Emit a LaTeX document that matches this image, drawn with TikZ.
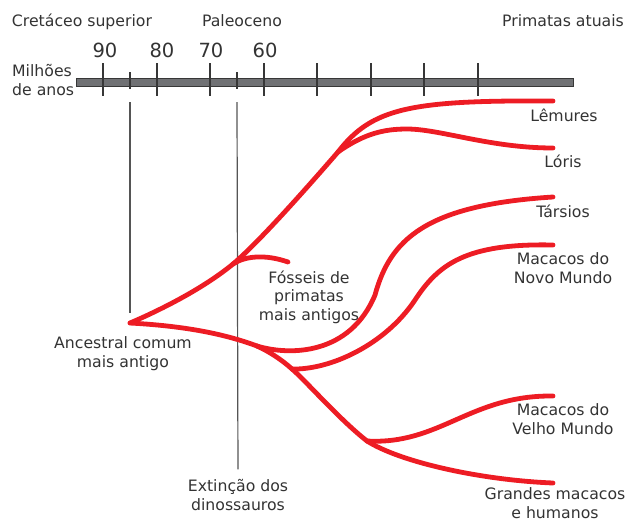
\documentclass[tikz,border=0pt]{standalone}
\usepackage{fontspec}
\setmainfont{DejaVu Sans}
\definecolor{primred} {RGB}{237,28,36}
\definecolor{primgray}{RGB}{112,113,116}
\definecolor{primdark}{RGB}{55,55,55}
\definecolor{primtext}{RGB}{51,51,51}
\tikzset{
  ramo/.style={primred,line width=4.8pt,line cap=round},
  marca/.style={primdark,line width=1.2pt},
  guia/.style={primdark!85,line width=1.2pt},
  rotulo/.style={text=primtext,font=\fontsize{15.7}{18.3}\selectfont,
                 align=center,inner sep=0pt},
  escala/.style={text=primtext,font=\fontsize{19.5}{22}\selectfont,inner sep=0pt},
}

\begin{document}
\begin{tikzpicture}[x=1pt,y=-1pt]
    \useasboundingbox (0,0) rectangle (628,523);
    % time scale
    \node[rotulo,anchor=base] (cret)   at (82,26)  {Cretáceo superior};
    \node[rotulo,anchor=base] (paleo)  at (242,26) {Paleoceno};
    \node[rotulo,anchor=base] (atuais) at (563,26) {Primatas atuais};
    \foreach \x/\v in {105/90,162/80,211/70,265/60}
      \node[escala,anchor=base] (m\v) at (\x,57) {\v};
    \node[rotulo,align=left,anchor=base west] (anos) at (12,95) {Milhões\\de anos};
    \filldraw[fill=primgray,draw=primdark,line width=1pt] (76,78) rectangle (573,86);
    \foreach \x in {103,157,210,264,317,371,424,478}
      \draw[marca] (\x,63) -- (\x,96);
    \foreach \x in {130,237}
      \draw[marca] (\x,72) -- (\x,89);
    % branch points and tips
    \coordinate (anc) at (130,323);
    \coordinate (b1)  at (338,152);
    \coordinate (b2)  at (233,264);
    \coordinate (b3)  at (257,346);
    \coordinate (b4)  at (292,369);
    \coordinate (b5)  at (367,441);
    \coordinate (lem) at (553,101);
    \coordinate (lor) at (553,148);
    \coordinate (fos) at (288,262);
    \coordinate (tar) at (553,197);
    \coordinate (nov) at (553,245);
    \coordinate (vel) at (553,396);
    \coordinate (gra) at (553,483);
    % labels (base = last line)
    \node[rotulo,anchor=base] (llem) at (564,121) {Lêmures};
    \node[rotulo,anchor=base] (llor) at (563,167) {Lóris};
    \node[rotulo,anchor=base] (ltar) at (563,217) {Társios};
    \node[rotulo,anchor=base] (lnov) at (563,283) {Macacos do\\Novo Mundo};
    \node[rotulo,anchor=base] (lvel) at (563,434) {Macacos do\\Velho Mundo};
    \node[rotulo,anchor=base] (lgra) at (555,518) {Grandes macacos\\e humanos};
    \node[rotulo,anchor=base] (lfos) at (309,320) {Fósseis de\\primatas\\mais antigos};
    \node[rotulo,anchor=base] (lanc) at (123,367) {Ancestral comum\\mais antigo};
    \node[rotulo,anchor=base] (lext) at (238,510) {Extinção dos\\dinossauros};
    % guide lines
    \coordinate (g1) at (130,102);
    \coordinate (g2) at (237,102);
    \draw[guia,shorten >=10pt] (g1) -- (anc);
    \draw[guia,shorten >=10pt] (g2) -- (lext.north);
    % tree
    \draw[ramo] (anc) .. controls (165,308) and (205,287) .. (b2);
    \draw[ramo] (b2) .. controls (258,243) and (305,190) .. (b1);
    \draw[ramo] (b1) .. controls (372,108) and (410,100) .. (lem);
    \draw[ramo] (b1) .. controls (365,133) and (385,129) .. (407,129)
                     .. controls (440,129) and (490,148) .. (lor);
    \draw[ramo] (b2) .. controls (245,256) and (265,254) .. (fos);
    \draw[ramo] (anc) .. controls (185,326) and (225,334) .. (b3);
    \draw[ramo] (b3) .. controls (270,352) and (282,360) .. (b4);
    \draw[ramo] (b4) .. controls (305,380) and (340,420) .. (b5);
    \draw[ramo] (b5) .. controls (400,462) and (480,480) .. (gra);
    \draw[ramo] (b3) .. controls (290,356) and (350,355) .. (375,295)
                     .. controls (390,240) and (425,205) .. (tar);
    \draw[ramo] (b4) .. controls (330,370) and (385,345) .. (415,300)
                     .. controls (438,265) and (465,243) .. (nov);
    \draw[ramo] (b5) .. controls (440,445) and (470,395) .. (vel);
\end{tikzpicture}
\end{document}
